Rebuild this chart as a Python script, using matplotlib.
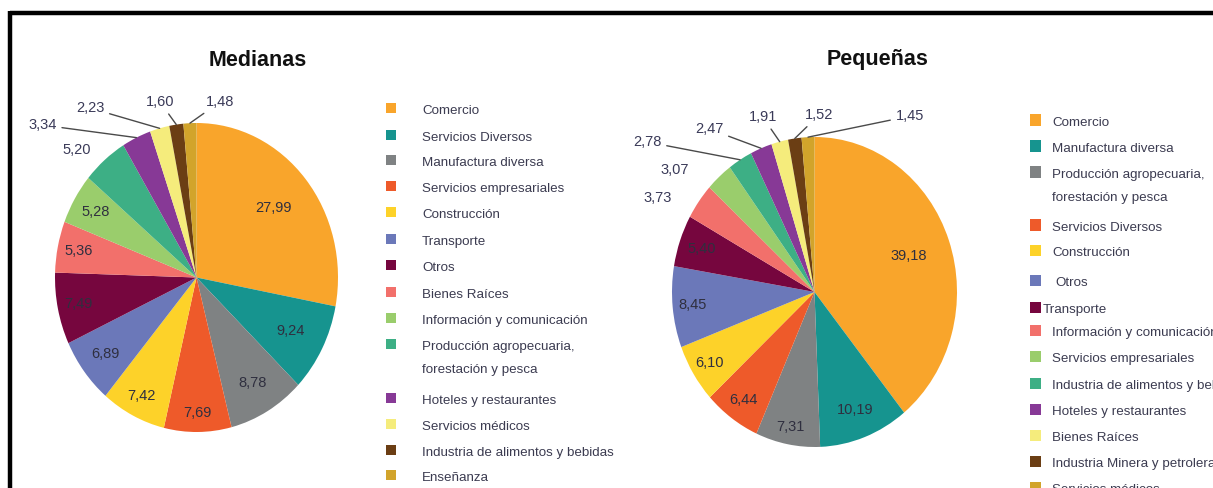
import numpy as np
import matplotlib.pyplot as plt
from matplotlib.patches import Rectangle
from matplotlib.lines import Line2D

plt.rcParams['font.family'] = ['Liberation Sans', 'DejaVu Sans']

W, H = 1213, 488

# --- data -------------------------------------------------------------
colores = ['#F9A52B', '#16948F', '#7F8283', '#EE5A2A', '#FDD229', '#6B78B9', '#76063E',
           '#F2706B', '#9ACD6C', '#3DAF85', '#873996', '#F5EC7C', '#6B3E14', '#D2A42B']

med_cat = ['Comercio', 'Servicios Diversos', 'Manufactura diversa', 'Servicios empresariales',
           'Construcción', 'Transporte', 'Otros', 'Bienes Raíces', 'Información y comunicación',
           'Producción agropecuaria,\nforestación y pesca', 'Hoteles y restaurantes',
           'Servicios médicos', 'Industria de alimentos y bebidas', 'Enseñanza']
med_val = [27.99, 9.24, 8.78, 7.69, 7.42, 6.89, 7.49, 5.36, 5.28, 5.20, 3.34, 2.23, 1.60, 1.48]

peq_cat = ['Comercio', 'Manufactura diversa', 'Producción agropecuaria,\nforestación y pesca',
           'Servicios Diversos', 'Construcción', 'Otros', 'Transporte',
           'Información y comunicación', 'Servicios empresariales',
           'Industria de alimentos y bebidas', 'Hoteles y restaurantes', 'Bienes Raíces',
           'Industria Minera y petrolera', 'Servicios médicos']
peq_val = [39.18, 10.19, 7.31, 6.44, 6.10, 8.45, 5.40, 3.73, 3.07, 2.78, 2.47, 1.91, 1.52, 1.45]

# --- layout -----------------------------------------------------------
med_geom = (196.5, 277.5, 141.5, 154.5)   # centre x, y, radius x, y (px)
peq_geom = (814.5, 292.0, 142.5, 155.0)
med_r_in = [0.71, 0.75, 0.79, 0.88, 0.86, 0.81, 0.85, 0.85, 0.83]
med_out = [(-0.845, 0.825, False), (-1.09, 0.987, True), (-0.753, 1.097, True),
           (-0.258, 1.136, True), (0.166, 1.136, True)]
peq_r_in = [0.70, 0.81, 0.886, 0.855, 0.87, 0.86, 0.84]
peq_out = [(-1.098, 0.606, False), (-0.979, 0.787, False), (-1.175, 0.968, True),
           (-0.74, 1.052, True), (-0.363, 1.129, True), (0.032, 1.142, True),
           (0.67, 1.135, True)]

med_leg_y = [111, 138, 163, 189, 215, 242, 268, 295, 321, 347, 401, 427, 453, 478]
peq_leg_y = [123, 149, 175, 228, 253, 283, 310, 333, 359, 386, 412, 438, 464, 490]
peq_txt_x = [1052, 1052, 1052, 1052, 1052, 1055, 1043, 1052, 1052, 1052, 1052, 1052, 1052, 1052]

fig = plt.figure(figsize=(W / 100, H / 100), dpi=100)

num_color = '#2f2f3f'


def fmt(v):
    return f'{v:.2f}'.replace('.', ',')


def draw_pie(vals, geom, r_in, outs):
    cx, cy, rx, ry = geom
    ax = fig.add_axes([(cx - rx) / W, 1 - (cy + ry) / H, 2 * rx / W, 2 * ry / H])
    wedges, _ = ax.pie(vals, colors=colores, startangle=90, counterclock=False,
                       radius=1, wedgeprops=dict(linewidth=0))
    ax.set_aspect('auto')
    ax.set_xlim(-1, 1)
    ax.set_ylim(-1, 1)
    ax.axis('off')
    n_in = len(r_in)
    for i, (w, v) in enumerate(zip(wedges, vals)):
        th = np.deg2rad((w.theta1 + w.theta2) / 2)
        if i < n_in:
            r = r_in[i]
            ax.text(r * np.cos(th), r * np.sin(th), fmt(v), ha='center', va='center',
                    fontsize=10.5, color=num_color)
        else:
            tx, ty, line = outs[i - n_in]
            if line:
                ax.annotate(fmt(v), xy=(np.cos(th), np.sin(th)), xytext=(tx, ty),
                            ha='center', va='center', fontsize=10.5, color='#3a3a58',
                            annotation_clip=False,
                            arrowprops=dict(arrowstyle='-', color='#4a4a4a', lw=1.0,
                                            shrinkA=2, shrinkB=0))
            else:
                ax.text(tx, ty, fmt(v), ha='center', va='center', fontsize=10.5,
                        color='#3a3a58')
    return ax


def draw_legend(cats, ys, sq_x, txt_x, sq):
    for i, (c, y) in enumerate(zip(cats, ys)):
        fig.add_artist(Rectangle((sq_x / W, 1 - (y - 3 + sq / 2) / H), sq / W, sq / H,
                                 transform=fig.transFigure, facecolor=colores[i],
                                 edgecolor='none'))
        tx = txt_x[i] if isinstance(txt_x, list) else txt_x
        for k, line in enumerate(c.split('\n')):
            fig.text(tx / W, 1 - (y + 23 * k) / H, line, ha='left', va='center',
                     fontsize=9.6, color='#3b3b50')


draw_pie(med_val, med_geom, med_r_in, med_out)
draw_pie(peq_val, peq_geom, peq_r_in, peq_out)

draw_legend(med_cat, med_leg_y, 386, 422, 10)
draw_legend(peq_cat, peq_leg_y, 1030, peq_txt_x, 11)

fig.text(258 / W, 1 - 60 / H, 'Medianas', ha='center', va='center', fontsize=15.5,
         fontweight='bold', color='#111111')
fig.text(878 / W, 1 - 60 / H, 'Pequeñas', ha='center', va='center', fontsize=15.5,
         fontweight='bold', color='#111111')

# black frame, top and left edges
fig.add_artist(Line2D([10 / W, 1.01], [1 - 13 / H, 1 - 13 / H], transform=fig.transFigure,
                      color='black', lw=3.2, solid_capstyle='butt'))
fig.add_artist(Line2D([10 / W, 10 / W], [1 - 11 / H, -0.01], transform=fig.transFigure,
                      color='black', lw=3.2, solid_capstyle='butt'))

fig.savefig('out.png', dpi=100)
